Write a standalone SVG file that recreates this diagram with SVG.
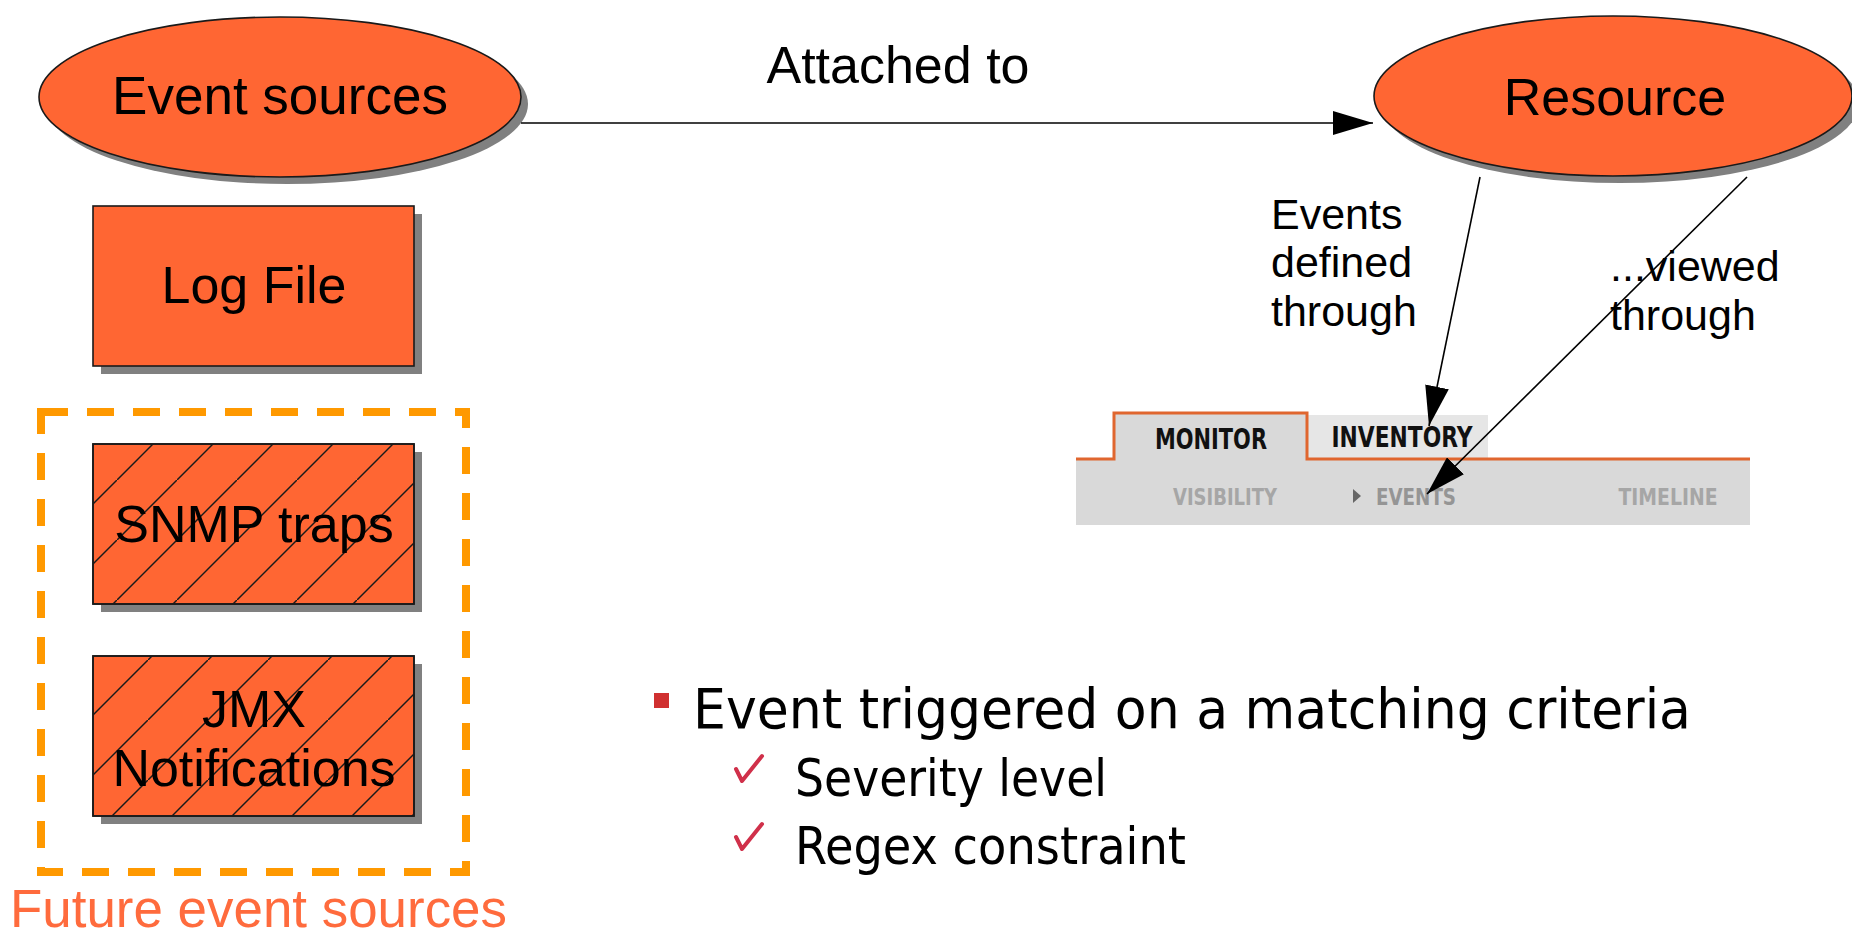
<svg xmlns="http://www.w3.org/2000/svg" width="1852" height="938" viewBox="0 0 1852 938">
<style>
.lbl{font-family:"Liberation Sans",Arial,sans-serif;fill:#000}
.node{fill:#FF6633;stroke:#1a1a1a;stroke-width:1.6}
.shadow{fill:#808080}
.conn{stroke:#000;stroke-width:1.6;fill:none}
.tab{font-family:"Liberation Sans Narrow","DejaVu Sans Condensed","Liberation Sans",sans-serif;font-weight:bold}
.bul{font-family:"DejaVu Sans Condensed","DejaVu Sans",sans-serif;font-stretch:condensed;fill:#000}
.chk{fill:none;stroke:#D0304A;stroke-width:4;stroke-linecap:round;stroke-linejoin:round}
</style>
<defs>
<marker id="arr" markerUnits="userSpaceOnUse" markerWidth="40" markerHeight="24" viewBox="0 0 40 24" refX="40" refY="12" orient="auto">
<path d="M0,0 L40,12 L0,24 Z" fill="#000"/>
</marker>
<pattern id="hatchA" patternUnits="userSpaceOnUse" x="57" y="0" width="60" height="60">
<path d="M-10,70 L70,-10" stroke="#1a1a1a" stroke-width="1.5"/>
</pattern>
<pattern id="hatchB" patternUnits="userSpaceOnUse" x="28" y="0" width="60" height="60">
<path d="M-10,70 L70,-10" stroke="#1a1a1a" stroke-width="1.5"/>
</pattern>
</defs>
<rect width="1852" height="938" fill="#fff"/>

<g id="event-sources">
<ellipse class="shadow" cx="287" cy="104" rx="241" ry="80"/>
<ellipse class="node" cx="280" cy="97" rx="241" ry="80"/>
<text class="lbl" x="280" y="114" font-size="53" text-anchor="middle">Event sources</text>
</g>

<g id="resource">
<ellipse class="shadow" cx="1620" cy="103" rx="239" ry="80"/>
<ellipse class="node" cx="1613" cy="96" rx="239" ry="80"/>
<text class="lbl" x="1615" y="115" font-size="52" text-anchor="middle">Resource</text>
</g>

<g id="log-file">
<rect class="shadow" x="101" y="214" width="321" height="160"/>
<rect class="node" x="93" y="206" width="321" height="160"/>
<text class="lbl" x="254" y="303" font-size="52" text-anchor="middle">Log File</text>
</g>

<g id="future-sources">
<rect x="41" y="412" width="425" height="460" fill="none" stroke="#FF9900" stroke-width="8" stroke-dasharray="27 19"/>
<text x="10" y="927" font-family="'Liberation Sans',Arial,sans-serif" font-size="53" fill="#FF6B3D" textLength="497" lengthAdjust="spacingAndGlyphs">Future event sources</text>
</g>

<g id="snmp-traps">
<rect class="shadow" x="101" y="452" width="321" height="160"/>
<rect class="node" x="93" y="444" width="321" height="160"/>
<rect x="93" y="444" width="321" height="160" fill="url(#hatchA)" stroke="#1a1a1a" stroke-width="1.6"/>
<text class="lbl" x="254" y="542" font-size="52" text-anchor="middle">SNMP traps</text>
</g>

<g id="jmx-notifications">
<rect class="shadow" x="101" y="664" width="321" height="160"/>
<rect class="node" x="93" y="656" width="321" height="160"/>
<rect x="93" y="656" width="321" height="160" fill="url(#hatchB)" stroke="#1a1a1a" stroke-width="1.6"/>
<text class="lbl" font-size="52" text-anchor="middle"><tspan x="254" y="727">JMX</tspan><tspan x="254" y="786">Notifications</tspan></text>
</g>

<g id="ui-tabs">
<rect x="1076" y="459" width="674" height="66" fill="#d9d9d9"/>
<rect x="1114" y="413" width="193" height="47" fill="#d9d9d9"/>
<rect x="1307" y="415" width="181" height="44" fill="#e6e6e6"/>
<path d="M1076,459 H1114 V413 H1307 V459 H1750" fill="none" stroke="#E0662F" stroke-width="3"/>
<text class="tab" x="1211" y="449" font-size="28" fill="#111" text-anchor="middle" textLength="112" lengthAdjust="spacingAndGlyphs">MONITOR</text>
<text class="tab" x="1402" y="447" font-size="28" fill="#111" text-anchor="middle" textLength="141" lengthAdjust="spacingAndGlyphs">INVENTORY</text>
<text class="tab" x="1225" y="505" font-size="23" fill="#a6a6a6" text-anchor="middle" textLength="104" lengthAdjust="spacingAndGlyphs">VISIBILITY</text>
<path d="M1353,489 L1361,496 L1353,503 Z" fill="#666"/>
<text class="tab" x="1376" y="505" font-size="23" fill="#959595" textLength="80" lengthAdjust="spacingAndGlyphs">EVENTS</text>
<text class="tab" x="1668" y="505" font-size="23" fill="#a6a6a6" text-anchor="middle" textLength="99" lengthAdjust="spacingAndGlyphs">TIMELINE</text>
</g>

<g id="criteria">
<rect x="654" y="693" width="15" height="15" fill="#D03030"/>
<text class="bul" x="693" y="728" font-size="55" textLength="998" lengthAdjust="spacingAndGlyphs">Event triggered on a matching criteria</text>
<path class="chk" d="M736,769 L742,781 L762,756"/>
<text class="bul" x="795" y="796" font-size="51" textLength="312" lengthAdjust="spacingAndGlyphs">Severity level</text>
<path class="chk" d="M736,837 L742,849 L762,824"/>
<text class="bul" x="795" y="864" font-size="51" textLength="391" lengthAdjust="spacingAndGlyphs">Regex constraint</text>
</g>

<g id="connectors">
<line class="conn" x1="521" y1="123" x2="1373" y2="123" marker-end="url(#arr)"/>
<line class="conn" x1="1480" y1="177" x2="1429" y2="426" marker-end="url(#arr)"/>
<line class="conn" x1="1747" y1="177" x2="1427" y2="494" marker-end="url(#arr)"/>
<text class="lbl" x="898" y="83" font-size="52" text-anchor="middle">Attached to</text>
<text class="lbl" font-size="43"><tspan x="1271" y="229">Events</tspan><tspan x="1271" y="277">defined</tspan><tspan x="1271" y="326">through</tspan></text>
<text class="lbl" font-size="43"><tspan x="1610" y="281">...viewed</tspan><tspan x="1610" y="330">through</tspan></text>
</g>
</svg>
